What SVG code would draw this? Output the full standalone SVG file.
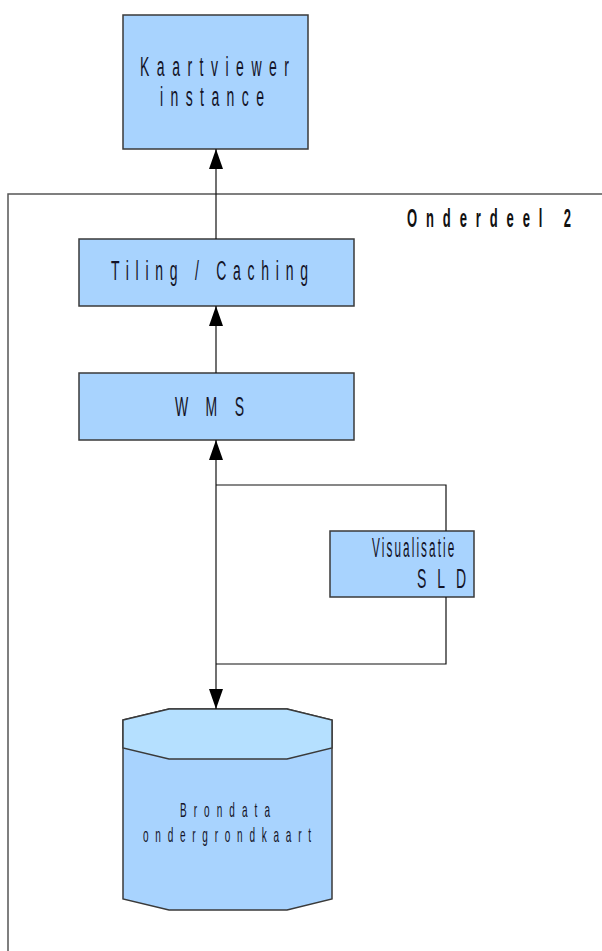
<svg xmlns="http://www.w3.org/2000/svg" width="602" height="951" viewBox="0 0 602 951">
<defs>
<style>
.box{fill:#a8d3fe;stroke:#3a3a3a;stroke-width:1.5}
.frame{fill:none;stroke:#555;stroke-width:1.5}
.ln{fill:none;stroke:#111;stroke-width:1.2}
.t{font-family:"Liberation Sans",Arial,sans-serif;font-size:28px;fill:#141428}
.tb{font-family:"Liberation Sans",Arial,sans-serif;font-size:26px;font-weight:bold;fill:#111}
.ts{font-family:"Liberation Sans",Arial,sans-serif;font-size:20px;fill:#141428}
</style>
<marker id="arr" viewBox="0 0 20 14" markerWidth="20" markerHeight="14" refX="20" refY="7" orient="auto-start-reverse" markerUnits="userSpaceOnUse">
<path d="M0,0 L20,7 L0,14 z" fill="#000"/>
</marker>
</defs>
<rect width="602" height="951" fill="#fff"/>
<g id="onderdeel2">
<path class="frame" d="M602,194 H8 V951"/>
<text class="tb" transform="matrix(0.5,0,0,1,407,227)" x="0" y="0" textLength="328" lengthAdjust="spacing">Onderdeel 2</text>
</g>
<g id="kaartviewer">
<rect class="box" x="123" y="15" width="185" height="134"/>
<text class="t" transform="matrix(0.5,0,0,1,140,76)" x="0" y="0" textLength="298" lengthAdjust="spacing">Kaartviewer</text>
<text class="t" transform="matrix(0.5,0,0,1,160,106)" x="0" y="0" textLength="208" lengthAdjust="spacing">instance</text>
</g>
<g id="tiling">
<rect class="box" x="79" y="239" width="275" height="67"/>
<text class="t" transform="matrix(0.5,0,0,1,111,280)" x="0" y="0" textLength="394" lengthAdjust="spacing">Tiling / Caching</text>
</g>
<g id="wms">
<rect class="box" x="79" y="373" width="275" height="67"/>
<text class="t" transform="matrix(0.5,0,0,1,175,416)" x="0" y="0" textLength="138" lengthAdjust="spacing">WMS</text>
</g>
<g id="visualisatie">
<rect class="box" x="330" y="531" width="144" height="66"/>
<text class="t" transform="matrix(0.42,0,0,1,372,557)" x="0" y="0" letter-spacing="5">Visualisatie</text>
<text class="t" transform="matrix(0.5,0,0,1,417,588)" x="0" y="0" textLength="98" lengthAdjust="spacing">SLD</text>
</g>
<g id="brondata">
<path d="M123,720 L169,709 L287,709 L332,720 L332,899 L287,910 L169,910 L123,899 Z" fill="#a8d3fe" stroke="#3a3a3a" stroke-width="1.5"/>
<path d="M123,720 L169,709 L287,709 L332,720 L332,748 L287,759 L169,759 L123,748 Z" fill="#b5e0ff" stroke="#3a3a3a" stroke-width="1.5"/>
<text class="ts" transform="matrix(0.5,0,0,1,180,817)" x="0" y="0" textLength="180" lengthAdjust="spacing">Brondata</text>
<text class="ts" transform="matrix(0.5,0,0,1,143,842)" x="0" y="0" textLength="336" lengthAdjust="spacing">ondergrondkaart</text>
</g>
<g id="connectors">
<line class="ln" x1="216" y1="239" x2="216" y2="149" marker-end="url(#arr)"/>
<line class="ln" x1="216" y1="373" x2="216" y2="306" marker-end="url(#arr)"/>
<line class="ln" x1="216" y1="440" x2="216" y2="709" marker-start="url(#arr)" marker-end="url(#arr)"/>
<polyline class="ln" points="216,485 446,485 446,531"/>
<polyline class="ln" points="446,597 446,664 216,664"/>
</g>
</svg>
